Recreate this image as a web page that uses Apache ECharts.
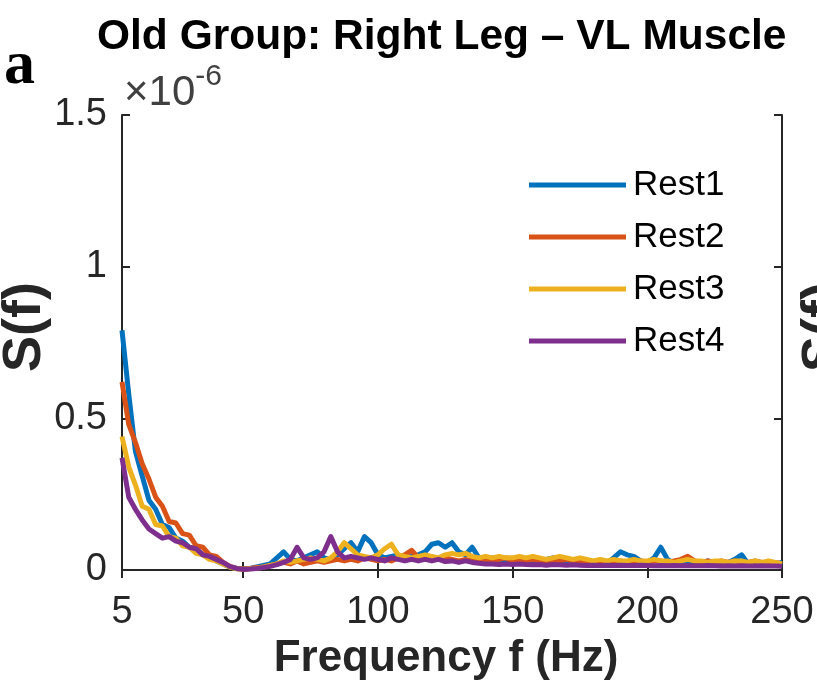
<!DOCTYPE html>
<html>
<head>
<meta charset="utf-8">
<script src="https://cdn.jsdelivr.net/npm/echarts@6/dist/echarts.min.js"></script>
<style>
html,body{margin:0;padding:0;background:#fff;}
#chart{width:817px;height:696px;}
</style>
</head>
<body>
<div id="chart"></div>
<script>
// Frequency (Hz)
const freq = [5,7.5,10,12.5,15,17.5,20,22.5,25,27.5,
30,32.5,35,37.5,40,42.5,45,47.5,50,52.5,
55,57.5,60,62.5,65,67.5,70,72.5,75,77.5,
80,82.5,85,87.5,90,92.5,95,97.5,100,102.5,
105,107.5,110,112.5,115,117.5,120,122.5,125,127.5,
130,132.5,135,137.5,140,142.5,145,147.5,150,152.5,
155,157.5,160,162.5,165,167.5,170,172.5,175,177.5,
180,182.5,185,187.5,190,192.5,195,197.5,200,202.5,
205,207.5,210,212.5,215,217.5,220,222.5,225,227.5,
230,232.5,235,237.5,240,242.5,245,247.5,250];

// S(f) in units of 1e-6
const rest1 = [0.79,0.58,0.39,0.31,0.23,0.20,0.15,0.14,0.105,0.095,
0.075,0.07,0.05,0.045,0.03,0.02,0.01,0.005,0.003,0.005,
0.01,0.015,0.02,0.04,0.06,0.035,0.03,0.04,0.05,0.06,
0.04,0.035,0.05,0.07,0.09,0.06,0.11,0.09,0.05,0.04,
0.045,0.05,0.04,0.045,0.05,0.06,0.085,0.09,0.075,0.09,
0.06,0.05,0.075,0.04,0.035,0.04,0.03,0.035,0.03,0.035,
0.03,0.03,0.025,0.035,0.04,0.03,0.03,0.025,0.03,0.025,
0.02,0.03,0.02,0.04,0.06,0.05,0.045,0.03,0.025,0.04,
0.075,0.035,0.02,0.025,0.02,0.025,0.02,0.03,0.02,0.02,
0.025,0.035,0.05,0.02,0.015,0.02,0.015,0.02,0.025];

const rest2 = [0.62,0.48,0.42,0.35,0.30,0.24,0.21,0.16,0.155,0.12,
0.115,0.08,0.075,0.05,0.045,0.025,0.012,0.005,0.003,0.005,
0.008,0.01,0.015,0.02,0.025,0.02,0.03,0.02,0.025,0.03,
0.025,0.03,0.035,0.03,0.035,0.03,0.04,0.035,0.03,0.035,
0.03,0.04,0.05,0.065,0.04,0.035,0.04,0.035,0.04,0.035,
0.03,0.035,0.03,0.03,0.035,0.03,0.035,0.04,0.03,0.035,
0.03,0.035,0.03,0.03,0.025,0.03,0.035,0.03,0.025,0.03,
0.025,0.03,0.025,0.03,0.03,0.025,0.03,0.03,0.025,0.03,
0.03,0.025,0.03,0.035,0.045,0.03,0.025,0.03,0.025,0.03,
0.025,0.03,0.025,0.025,0.03,0.025,0.02,0.025,0.02];

const rest3 = [0.44,0.34,0.28,0.21,0.20,0.15,0.145,0.11,0.105,0.08,
0.075,0.055,0.05,0.035,0.03,0.02,0.01,0.004,0.002,0.004,
0.006,0.01,0.015,0.02,0.03,0.025,0.03,0.035,0.04,0.035,
0.03,0.04,0.06,0.09,0.07,0.05,0.045,0.04,0.05,0.07,
0.085,0.05,0.045,0.04,0.045,0.05,0.045,0.04,0.05,0.055,
0.05,0.055,0.045,0.04,0.045,0.04,0.045,0.04,0.04,0.045,
0.04,0.045,0.04,0.035,0.04,0.045,0.04,0.035,0.04,0.035,
0.03,0.035,0.03,0.035,0.03,0.03,0.035,0.03,0.03,0.035,
0.03,0.03,0.025,0.03,0.035,0.03,0.03,0.025,0.03,0.03,
0.025,0.03,0.03,0.025,0.03,0.025,0.03,0.025,0.02];

const rest4 = [0.37,0.24,0.20,0.165,0.135,0.12,0.105,0.11,0.095,0.09,
0.075,0.07,0.05,0.045,0.035,0.025,0.012,0.005,0.002,0.003,
0.005,0.008,0.012,0.018,0.025,0.035,0.075,0.04,0.035,0.04,
0.06,0.11,0.06,0.04,0.045,0.04,0.035,0.04,0.035,0.03,
0.04,0.035,0.03,0.035,0.03,0.035,0.03,0.035,0.028,0.03,
0.025,0.03,0.025,0.022,0.02,0.02,0.018,0.02,0.018,0.02,
0.018,0.017,0.018,0.016,0.018,0.017,0.016,0.017,0.016,0.015,
0.016,0.015,0.016,0.015,0.016,0.015,0.015,0.016,0.015,0.014,
0.015,0.014,0.015,0.014,0.015,0.014,0.014,0.015,0.014,0.013,
0.014,0.013,0.014,0.013,0.013,0.014,0.013,0.013,0.012];

const seriesNames = ['Rest1','Rest2','Rest3','Rest4'];
const seriesValues = [rest1, rest2, rest3, rest4];
const seriesColors = ['#0072BD','#D95319','#EDB120','#7E2F8E'];
const xTicks = [5,50,100,150,200,250];
const yTicks = [0,0.5,1,1.5];

const FONT = "'Liberation Sans', Arial, Helvetica, sans-serif";
const AX = '#262626';

const chart = echarts.init(document.getElementById('chart'), null, {renderer:'canvas'});

const series = seriesNames.map((name, k) => ({
  name: name,
  type: 'line',
  data: freq.map((f, i) => [f, seriesValues[k][i]]),
  showSymbol: false,
  symbol: 'none',
  lineStyle: {width: 5, color: seriesColors[k], join: 'round'},
  itemStyle: {color: seriesColors[k]},
  z: 2 + k,
  animation: false
}));

const axisLineStyle = {show: true, lineStyle: {color: AX, width: 2}};

chart.setOption({
  backgroundColor: '#ffffff',
  animation: false,
  grid: {left: 122, top: 115, width: 660, height: 455, containLabel: false, outerBoundsMode: 'none'},
  legend: {
    data: seriesNames.map(n => ({name: n, icon: 'rect'})),
    orient: 'vertical',
    left: 524,
    top: 154,
    itemWidth: 97,
    itemHeight: 5,
    itemGap: 0,
    textStyle: {fontFamily: FONT, fontSize: 35, color: '#000', lineHeight: 52, padding: [0,0,0,2]}
  },
  xAxis: [{
    type: 'value', min: 5, max: 250, position: 'bottom',
    axisLine: axisLineStyle,
    axisTick: {show: true, inside: true, length: 8, customValues: xTicks, lineStyle: {color: AX, width: 2}},
    axisLabel: {customValues: xTicks, fontFamily: FONT, fontSize: 38, color: AX, margin: 24},
    splitLine: {show: false},
    name: 'Frequency f (Hz)', nameLocation: 'middle', nameGap: 55,
    nameTextStyle: {fontFamily: FONT, fontSize: 44, fontWeight: 'bold', color: AX, padding: [0, 12, 0, 0]}
  }, {
    type: 'value', min: 5, max: 250, position: 'top',
    axisLine: axisLineStyle,
    axisTick: {show: true, inside: true, length: 8, customValues: xTicks, lineStyle: {color: AX, width: 2}},
    axisLabel: {show: false},
    splitLine: {show: false}
  }],
  yAxis: [{
    type: 'value', min: 0, max: 1.5, interval: 0.5, position: 'left',
    axisLine: axisLineStyle,
    axisTick: {show: true, inside: true, length: 8, lineStyle: {color: AX, width: 2}},
    axisLabel: {fontFamily: FONT, fontSize: 38, color: AX, margin: 15},
    splitLine: {show: false}
  }, {
    type: 'value', min: 0, max: 1.5, interval: 0.5, position: 'right',
    axisLine: axisLineStyle,
    axisTick: {show: true, inside: true, length: 8, lineStyle: {color: AX, width: 2}},
    axisLabel: {show: false},
    splitLine: {show: false}
  }],
  series: series,
  graphic: [
    {type: 'text', left: 97, top: 16, style: {text: 'Old Group: Right Leg \u2013 VL Muscle', font: "bold 42.5px 'Liberation Sans', Arial, sans-serif", fill: '#000'}},
    {type: 'text', left: 4, top: 36, style: {text: 'a', font: "bold 62px 'Liberation Serif', 'Times New Roman', serif", fill: '#000'}},
    {type: 'text', left: 124, top: 62, style: {
      text: '{b|\u00d710}{s|-6}',
      rich: {
        b: {fontFamily: FONT, fontSize: 42, fill: '#404040', color: '#404040', verticalAlign: 'bottom', lineHeight: 52},
        s: {fontFamily: FONT, fontSize: 30, fill: '#404040', color: '#404040', verticalAlign: 'top', lineHeight: 52}
      }
    }},
    {type: 'text', x: -2, y: 372, rotation: Math.PI/2, style: {text: 'S(f)', font: "bold 54px 'Liberation Sans', Arial, sans-serif", fill: AX, textVerticalAlign: 'top'}},
    {type: 'text', x: 797, y: 372, rotation: Math.PI/2, style: {text: 'S(f)', font: "bold 54px 'Liberation Sans', Arial, sans-serif", fill: AX, textVerticalAlign: 'top'}}
  ]
});
</script>
</body>
</html>
